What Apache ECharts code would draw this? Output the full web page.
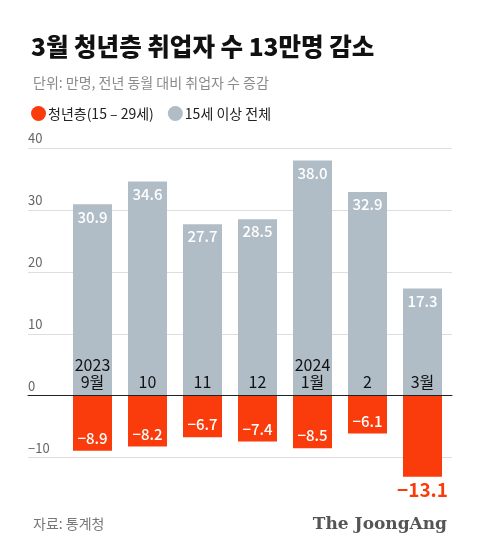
<!DOCTYPE html>
<html><head><meta charset="utf-8">
<script src="https://cdn.jsdelivr.net/npm/echarts@6/dist/echarts.min.js"></script>
<style>html,body{margin:0;padding:0;background:#fff}#c{width:480px;height:550px}</style>
</head><body><div id="c"></div>
<script>
const categories = ['2023\n9월', '10', '11', '12', '2024\n1월', '2', '3월'];
const youth = [-8.9, -8.2, -6.7, -7.4, -8.5, -6.1, -13.1];
const total = [30.9, 34.6, 27.7, 28.5, 38.0, 32.9, 17.3];
const yTicks = [-20, -10, 0, 10, 20, 30, 40];

const FONT = '"Noto Sans CJK KR", "Noto Sans", sans-serif';
const RED = '#fa3c0c';
const GRAY = '#b1bdc6';
const chart = echarts.init(document.getElementById('c'), null, {renderer: 'canvas'});
const gridTop = 148, gridBottom = 30.5;
const gridH = 550 - gridTop - gridBottom;
const yMin = yTicks[0], yMax = yTicks[yTicks.length - 1];
const zeroOffset = -gridH * (yMax - 0) / (yMax - yMin);

chart.setOption({
  backgroundColor: '#fff',
  animation: false,
  textStyle: {fontFamily: FONT},
  title: [
    {text: '3월 청년층 취업자 수 13만명 감소', left: 26, top: 29,
     textStyle: {fontFamily: FONT, fontSize: 24.5, fontWeight: 900, color: '#111'}},
    {text: '단위: 만명, 전년 동월 대비 취업자 수 증감', left: 28, top: 71,
     textStyle: {fontFamily: FONT, fontSize: 14, fontWeight: 400, color: '#8a8a8a'}},
    {text: '자료: 통계청', left: 28, top: 512,
     textStyle: {fontFamily: FONT, fontSize: 14, fontWeight: 400, color: '#777'}},
    {text: 'The JoongAng', right: 28, top: 511,
     textStyle: {fontFamily: '"DejaVu Serif", "Liberation Serif", serif', fontSize: 17, fontWeight: 'bold', color: '#555'}}
  ],
  legend: {
    left: 26, top: 101, icon: 'circle', itemWidth: 15, itemHeight: 15, itemGap: 14,
    textStyle: {fontFamily: FONT, fontSize: 14, color: '#222', padding: [0, 0, 0, -3]},
    data: ['청년층(15 – 29세)', '15세 이상 전체']
  },
  grid: [
    {left: 28, right: 28, top: gridTop, bottom: gridBottom},
    {left: 65, right: 30, top: gridTop, bottom: gridBottom}
  ],
  xAxis: [
    {gridIndex: 0, type: 'value', min: 0, max: 1, z: 10,
     axisLine: {show: true, onZero: true, lineStyle: {color: '#222', width: 1}},
     axisTick: {show: false}, axisLabel: {show: false}, splitLine: {show: false}},
    {gridIndex: 1, type: 'category', data: categories, position: 'top', offset: zeroOffset, z: 10,
     axisLine: {show: false, onZero: false}, axisTick: {show: false},
     axisLabel: {margin: 5, color: '#111', fontSize: 16, lineHeight: 17, fontFamily: FONT}}
  ],
  yAxis: [
    {gridIndex: 0, type: 'value', min: yMin, max: yMax, interval: 10,
     axisLine: {show: false}, axisTick: {show: false},
     axisLabel: {inside: true, margin: 0, verticalAlign: 'bottom', align: 'left', color: '#666', fontSize: 13,
       padding: [0, 0, 3, 0],
       formatter: v => v === -20 ? '' : (v < 0 ? '−' + Math.abs(v) : String(v))},
     splitLine: {show: true, lineStyle: {color: ['rgba(0,0,0,0)', '#dedede', 'rgba(0,0,0,0)', '#dedede', '#dedede', '#dedede', '#dedede'], width: 1}}},
    {gridIndex: 1, type: 'value', min: yMin, max: yMax, interval: 10, show: false,
     splitLine: {show: false}}
  ],
  series: [
    {name: '15세 이상 전체', type: 'bar', xAxisIndex: 1, yAxisIndex: 1, data: total,
     barWidth: 39, barGap: '-100%', itemStyle: {color: GRAY},
     label: {show: true, position: 'insideTop', distance: 5, color: '#fff', fontSize: 15, fontWeight: 500,
       formatter: p => p.value.toFixed(1)}},
    {name: '청년층(15 – 29세)', type: 'bar', xAxisIndex: 1, yAxisIndex: 1,
     data: youth.map((v, i) => i === youth.length - 1 ? {value: v, label: {position: 'bottom', distance: 4, color: RED, fontSize: 19, fontWeight: 'bold'}} : v),
     barWidth: 39, barGap: '-100%', itemStyle: {color: RED},
     label: {show: true, position: 'insideBottom', distance: 5, color: '#fff', fontSize: 15, fontWeight: 500,
       formatter: p => '−' + Math.abs(p.value).toFixed(1)}}
  ]
});
</script></body></html>
